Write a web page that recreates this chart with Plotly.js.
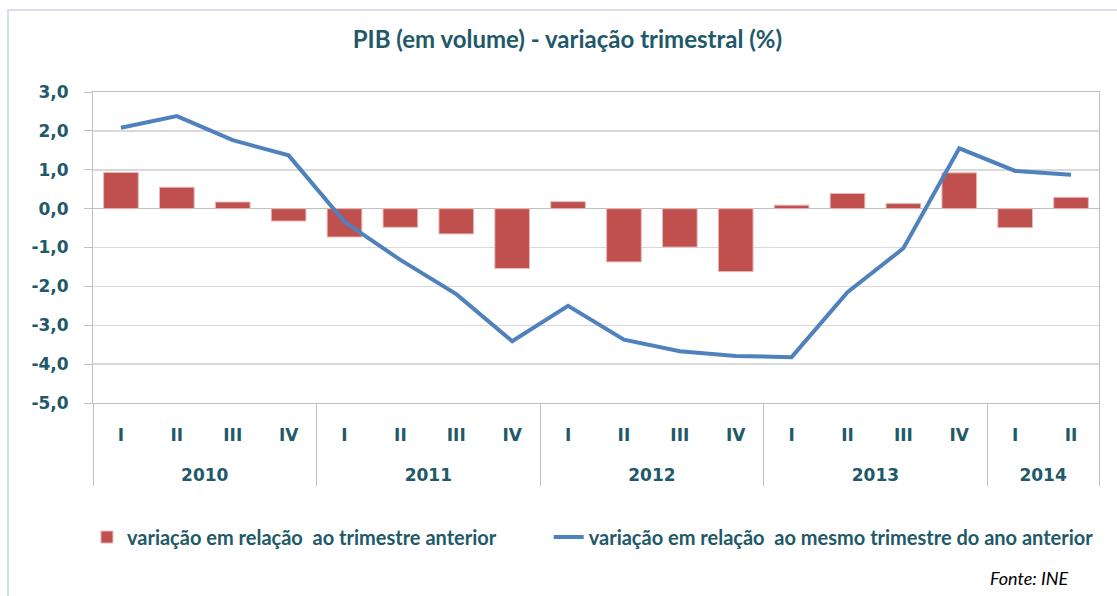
<!DOCTYPE html>
<html>
<head>
<meta charset="utf-8">
<script src="https://cdn.plot.ly/plotly-3.0.1.min.js"></script>
<style>
html,body{margin:0;padding:0;background:#fff;}
#chart{width:1117px;height:596px;}
</style>
</head>
<body>
<div id="chart"></div>
<script>
const years = ['2010','2010','2010','2010','2011','2011','2011','2011','2012','2012','2012','2012','2013','2013','2013','2013','2014','2014'];
const quarters = ['I','II','III','IV','I','II','III','IV','I','II','III','IV','I','II','III','IV','I','II'];
const qoq = [0.93,0.55,0.17,-0.32,-0.73,-0.48,-0.65,-1.54,0.18,-1.37,-0.99,-1.62,0.09,0.39,0.13,0.92,-0.49,0.29];
const yoy = [2.08,2.38,1.76,1.37,-0.34,-1.32,-2.2,-3.41,-2.5,-3.37,-3.67,-3.79,-3.82,-2.15,-1.02,1.55,0.97,0.87];
const yTickVals = [-5,-4,-3,-2,-1,0,1,2,3];
const yTickLabels = ['-5,0','-4,0','-3,0','-2,0','-1,0','0,0','1,0','2,0','3,0'];
const seriesNames = ['variação em relação  ao trimestre anterior','variação em relação  ao mesmo trimestre do ano anterior'];
const titleText = 'PIB (em volume) - variação trimestral (%)';
const sourceText = 'Fonte: INE';

// derived category positions (index based) for the two label levels and group dividers
const n = quarters.length;
const qPos = quarters.map((q, i) => i);
const yearList = [...new Set(years)];
const yearCenters = yearList.map(y => {
  const idx = years.map((v, i) => v === y ? i : -1).filter(i => i >= 0);
  return (idx[0] + idx[idx.length - 1]) / 2;
});
const bounds = [-0.5];
years.forEach((y, i) => { if (i > 0 && y !== years[i - 1]) bounds.push(i - 0.5); });
bounds.push(n - 0.5);
const xr = [-0.5, n - 0.5];

const txt = '#215968';
const axFont = {family:'"DejaVu Sans", Verdana, sans-serif', size:17, color:txt, weight:'bold'};
const data = [
  {type:'bar', x:[years, quarters], y:qoq, name:seriesNames[0], legend:'legend',
   marker:{color:'#C0504D', line:{color:'#E6B9B8', width:1}}},
  {type:'scatter', mode:'lines', x:[years, quarters], y:yoy, name:seriesNames[1], legend:'legend2',
   line:{color:'#4F81BD', width:4}},
  // empty helper traces so the label / divider axes get drawn
  {type:'scatter', mode:'lines', x:[], y:[], xaxis:'x2', showlegend:false, hoverinfo:'skip'},
  {type:'scatter', mode:'lines', x:[], y:[], xaxis:'x3', showlegend:false, hoverinfo:'skip'},
  {type:'scatter', mode:'lines', x:[], y:[], xaxis:'x4', showlegend:false, hoverinfo:'skip'}
];
const overlayAx = {overlaying:'x', anchor:'y', side:'bottom', type:'linear', range:xr, autorange:false,
  showgrid:false, zeroline:false, showline:false, ticks:'', fixedrange:true};
const layout = {
  width:1117, height:596,
  margin:{l:93, r:18, t:92, b:193, autoexpand:false},
  paper_bgcolor:'#fff', plot_bgcolor:'#fff',
  bargap:0.38,
  showlegend:true,
  title:{text:'<b>'+titleText+'</b>', x:0.508, xanchor:'center', y:0.933, yanchor:'middle',
         font:{family:'Lato, "Open Sans", sans-serif', size:24, color:txt}},
  xaxis:{type:'multicategory', range:xr, showline:true, linecolor:'#bfbfbf', linewidth:1, mirror:true,
         showgrid:false, zeroline:false, ticks:'', showticklabels:false, showdividers:false},
  xaxis2:Object.assign({}, overlayAx, {tickmode:'array', tickvals:qPos, ticktext:quarters,
         ticklabelstandoff:20, tickfont:axFont}),
  xaxis3:Object.assign({}, overlayAx, {tickmode:'array', tickvals:yearCenters, ticktext:yearList,
         ticklabelstandoff:60, tickfont:axFont}),
  xaxis4:Object.assign({}, overlayAx, {tickmode:'array', tickvals:bounds, ticks:'outside', ticklen:82,
         tickcolor:'#bfbfbf', tickwidth:1, showticklabels:false}),
  yaxis:{range:[-5,3], tickvals:yTickVals, ticktext:yTickLabels, showline:true, linecolor:'#bfbfbf', mirror:true,
         showgrid:true, gridcolor:'#d9d9d9', gridwidth:1.5, zeroline:true, zerolinecolor:'#bfbfbf', zerolinewidth:1.5,
         ticks:'outside', ticklen:8, tickcolor:'#bfbfbf', ticklabelstandoff:12, tickfont:axFont},
  legend:{orientation:'h', x:-0.006, xanchor:'left', y:-0.431, yanchor:'middle',
          font:{family:'Lato, "Open Sans", sans-serif', size:20, color:txt, weight:'bold'}, itemwidth:30},
  legend2:{orientation:'h', x:0.453, xanchor:'left', y:-0.431, yanchor:'middle',
          font:{family:'Lato, "Open Sans", sans-serif', size:20, color:txt, weight:'bold'}, itemwidth:30},
  annotations:[{text:'<i>'+sourceText+'</i>', xref:'paper', yref:'paper', x:0.972, y:-0.563, xanchor:'right', yanchor:'middle',
                showarrow:false, font:{family:'Lato, "Open Sans", sans-serif', size:18, color:'#000'}}],
  shapes:[{type:'rect', xref:'paper', yref:'paper', x0:-0.0845, x1:1.03, y0:-0.64, y1:1.264,
           line:{color:'#d6dfe9', width:2}, fillcolor:'rgba(0,0,0,0)', layer:'below'}]
};
Plotly.newPlot('chart', data, layout, {displayModeBar:false, staticPlot:true});
</script>
</body>
</html>
